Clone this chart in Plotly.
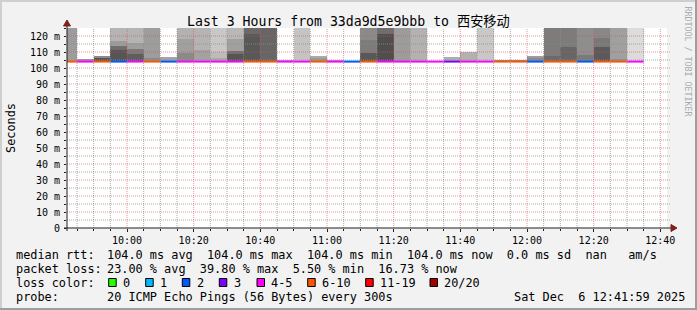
import plotly.graph_objects as go
from datetime import datetime, timedelta

# ---------------- data ----------------
DAY = "2025-12-06"
bin_start = ["09:40", "09:45", "09:50", "09:55", "10:00", "10:05", "10:10", "10:15", "10:20", "10:25",
             "10:30", "10:35", "10:40", "10:45", "10:50", "10:55", "11:00", "11:05", "11:10", "11:15",
             "11:20", "11:25", "11:30", "11:35", "11:40", "11:45", "11:50", "11:55", "12:00", "12:05",
             "12:10", "12:15", "12:20", "12:25", "12:30"]

median_rtt_ms = [104.0, 104.0, 104.0, 104.0, 104.0, 104.0, 104.0, 104.0, 104.0, 104.0,
                 104.0, 104.0, 104.0, 104.0, 104.0, 104.0, 104.0, 104.0, 104.0, 104.0,
                 104.0, 104.0, 104.0, 104.0, 104.0, 104.0, 104.0, 104.0, 104.0, 104.0,
                 104.0, 104.0, 104.0, 104.0, 104.0]

lost_pings = [7, 5, 7, 2, 5, 7, 2, 4, 5, 4,
              5, 8, 8, 5, 4, 6, 5, 2, 7, 5,
              4, 5, 4, 3, 4, 5, 6, 6, 2, 7,
              8, 2, 7, 6, 4]

# smoke bands (upper edge in ms, 140 = beyond top of chart) and their grey density
smoke_top_1 = [140, 105.4, 107.2, 140, 140, 140, 107, 140, 140, 140,
               140, 140, 140, 104.8, 140, 107.5, 104.8, None, 140, 140,
               140, 140, None, 107, 110.3, 140, 105, 105.3, 107.5, 140,
               140, 140, 140, 140, 140]
smoke_gray_1 = [156, 153, 138, 180, 180, 157, 164, 178, 180, 200,
                184, 106, 102, 180, 196, 170, 176, None, 138, 110,
                156, 178, None, 174, 178, 200, 138, 138, 156, 124,
                124, 142, 136, 160, 220]
smoke_top_2 = [None, None, 106.3, 117, 115.5, 106, None, 118, 111.5, 110,
               118, 121, None, None, None, 106, None, None, 117.5, 121,
               None, None, None, None, None, None, None, None, 106, 107.5,
               113.3, 108, 119, 105.8, None]
smoke_gray_2 = [None, None, 85, 156, 158, 138, None, 160, 162, 188,
                160, 88, None, None, None, 153, None, None, 124, 78,
                None, None, None, None, None, None, None, None, 136, 106,
                102, 122, 120, 144, None]
smoke_top_3 = [None, None, None, 114, 112, None, None, 109.5, None, 106.5,
               110.5, None, None, None, None, None, None, None, 109.5, None,
               None, None, None, None, None, None, None, None, None, None,
               None, None, 113.3, None, None]
smoke_gray_3 = [None, None, None, 110, 122, None, None, 138, None, 170,
                112, None, None, None, None, None, None, None, 88, None,
                None, None, None, None, None, None, None, None, None, None,
                None, None, 90, None, None]
smoke_top_4 = [None, None, None, 111, 109, None, None, None, None, None,
               109, None, None, None, None, None, None, None, None, None,
               None, None, None, None, None, None, None, None, None, None,
               None, None, None, None, None]
smoke_gray_4 = [None, None, None, 85, 94, None, None, None, None, None,
                85, None, None, None, None, None, None, None, None, None,
                None, None, None, None, None, None, None, None, None, None,
                None, None, None, None, None]

loss_labels = ["0", "1", "2", "3", "4-5", "6-10", "11-19", "20/20"]
loss_colors = ["#26ff00", "#00b8ff", "#0059ff", "#7e00ff", "#ff00ff", "#ff5500", "#ff0000", "#a10000"]

y_tick_vals = [0, 10, 20, 30, 40, 50, 60, 70, 80, 90, 100, 110, 120]
y_tick_text = ["0", "10 m", "20 m", "30 m", "40 m", "50 m", "60 m", "70 m", "80 m", "90 m",
               "100 m", "110 m", "120 m"]

title_text = "Last 3 Hours from 33da9d5e9bbb to 西安移动"
stat_lines = [
    ("median rtt:", "104.0 ms avg  104.0 ms max  104.0 ms min  104.0 ms now  0.0 ms sd  nan   am/s"),
    ("packet loss:", "23.00 % avg  39.80 % max  5.50 % min  16.73 % now"),
    ("loss color:", ""),
    ("probe:", "20 ICMP Echo Pings (56 Bytes) every 300s"),
]
stamp_text = "Sat Dec  6 12:41:59 2025"

# ---------------- layout helpers ----------------
W, H = 697, 310
L, R, T, B = 67, 30, 28, 82
PW, PH = W - L - R, H - T - B


def px2x(px):
    return (px - L) / PW


def py2y(py):
    return (H - B - py) / PH


def tm(s):
    return datetime.strptime(f"{DAY} {s}", "%Y-%m-%d %H:%M")


STEP = timedelta(minutes=5)
starts = [tm(s) for s in bin_start]
centers = [s + STEP / 2 for s in starts]

MONO = "DejaVu Sans Mono, Noto Sans CJK SC, monospace"
AXIS_COL = "rgb(31,31,31)"
GRID_COL = "rgba(143,143,143,0.75)"
MGRID_COL = "rgba(222,79,79,0.6)"

fig = go.Figure()

# smoke
for tops, grays in [(smoke_top_1, smoke_gray_1), (smoke_top_2, smoke_gray_2),
                    (smoke_top_3, smoke_gray_3), (smoke_top_4, smoke_gray_4)]:
    yv = [None if tp is None else tp - m for tp, m in zip(tops, median_rtt_ms)]
    cols = [f"rgb({g},{g},{g})" if g is not None else "rgba(0,0,0,0)" for g in grays]
    fig.add_trace(go.Bar(x=centers, y=yv, base=median_rtt_ms, width=300000,
                         marker=dict(color=cols, line=dict(width=0)), opacity=1,
                         hoverinfo="skip", showlegend=False))


def loss_level(n):
    if n <= 3:
        return n
    if n <= 5:
        return 4
    if n <= 10:
        return 5
    if n <= 19:
        return 6
    return 7


# median line coloured by loss
for lvl in range(len(loss_colors)):
    xs, ys = [], []
    for s, m, n in zip(starts, median_rtt_ms, lost_pings):
        if loss_level(n) == lvl:
            xs += [s, s + STEP, None]
            ys += [m, m, None]
    if xs:
        fig.add_trace(go.Scatter(x=xs, y=ys, mode="lines",
                                 line=dict(color=loss_colors[lvl], width=2),
                                 hoverinfo="skip", showlegend=False))

shapes = []
# grid (drawn above the data like rrdtool)
g = tm("09:45")
while g <= tm("12:40"):
    major = g.minute % 20 == 0
    shapes.append(dict(type="line", xref="x", yref="paper", x0=g, x1=g, y0=0, y1=1,
                       line=dict(color=MGRID_COL if major else GRID_COL, width=1, dash="1px,1px"),
                       layer="above"))
    g += STEP
for v in range(5, 125, 5):
    major = v % 10 == 0
    shapes.append(dict(type="line", xref="paper", yref="y", x0=0, x1=px2x(670), y0=v, y1=v,
                       line=dict(color=MGRID_COL if major else GRID_COL, width=1, dash="1px,1px"),
                       layer="above"))

# axes with arrows
shapes.append(dict(type="line", xref="paper", yref="paper", x0=px2x(64), x1=px2x(673),
                   y0=0, y1=0, line=dict(color=AXIS_COL, width=1), layer="above"))
shapes.append(dict(type="line", xref="paper", yref="paper", x0=0, x1=0,
                   y0=py2y(231), y1=py2y(24), line=dict(color=AXIS_COL, width=1), layer="above"))
ARROW = "rgb(128,31,31)"
shapes.append(dict(type="path", xref="paper", yref="paper",
                   path=f"M {px2x(677)},{py2y(228)} L {px2x(671)},{py2y(224.5)} L {px2x(671)},{py2y(231.5)} Z",
                   fillcolor=ARROW, line=dict(color=ARROW, width=1), layer="above"))
shapes.append(dict(type="path", xref="paper", yref="paper",
                   path=f"M {px2x(67)},{py2y(20)} L {px2x(63.5)},{py2y(26)} L {px2x(70.5)},{py2y(26)} Z",
                   fillcolor=ARROW, line=dict(color=ARROW, width=1), layer="above"))

# image border (3D shade)
def rect(x0, y0, x1, y1, col):
    return dict(type="rect", xref="paper", yref="paper", x0=px2x(x0), x1=px2x(x1),
                y0=py2y(y0), y1=py2y(y1), fillcolor=col, line=dict(width=0), layer="above")


shapes += [rect(0, 0, W, 2, "#cfcfcf"), rect(0, 0, 2, H, "#cfcfcf"),
           rect(0, H - 2, W, H, "#9e9e9e"), rect(W - 2, 0, W, H, "#9e9e9e")]

annotations = []


def txt(x, y, s, size, anchor="left", color="#000000", angle=0, family=MONO):
    annotations.append(dict(xref="paper", yref="paper", x=px2x(x), y=py2y(y),
                            text=s.replace(" ", "\u00a0"), showarrow=False,
                            xanchor=anchor, yanchor="middle", textangle=angle,
                            font=dict(family=family, size=size, color=color),
                            borderpad=0, borderwidth=0))


txt(348.5, 21, title_text, 13.2, anchor="center")
txt(11, 128, "Seconds", 11.86, anchor="center", angle=-90)
txt(687.5, 61, "RRDTOOL / TOBI OETIKER", 8.3, anchor="center", color="#ababab", angle=90)

CH = 7.14
row_y = [254.5, 268.5, 282.5, 296.5]
for (label, value), yy in zip(stat_lines, row_y):
    txt(15.5, yy, label, 11.86)
    if value:
        txt(13.7 + 13 * CH, yy, value, 11.86)
txt(13.7 + 70 * CH, row_y[3], stamp_text, 11.86)

# loss colour legend
box_x = [108.7, 145.7, 182.3, 219.3, 257.0, 307.7, 365.7, 430.0]
for bx, lab, col in zip(box_x, loss_labels, loss_colors):
    shapes.append(dict(type="rect", xref="paper", yref="paper",
                       x0=px2x(bx), x1=px2x(bx + 7.5), y0=py2y(286.5), y1=py2y(278.5),
                       fillcolor=col, line=dict(color="#000000", width=1), layer="above"))
    txt(bx + 14.3, row_y[2], lab, 11.86)

fig.update_layout(
    width=W, height=H,
    margin=dict(l=L, r=R, t=T, b=B, pad=0, autoexpand=False),
    paper_bgcolor="#f2f2f2", plot_bgcolor="#ffffff",
    barmode="overlay", bargap=0, showlegend=False,
    shapes=shapes, annotations=annotations,
    xaxis=dict(type="date", range=[tm("09:42"), tm("12:42")], showgrid=False, zeroline=False,
               showline=False, ticks="outside", ticklen=3, tickcolor=AXIS_COL, tickwidth=1,
               tickformat="%H:%M", dtick=1200000, tick0=tm("10:00"),
               tickfont=dict(family=MONO, size=10, color="#000000"),
               minor=dict(ticks="outside", ticklen=2, dtick=300000, tick0=tm("09:45"),
                          tickcolor=AXIS_COL, showgrid=False),
               automargin=False, fixedrange=True),
    yaxis=dict(range=[0, 125], showgrid=False, zeroline=False, showline=False,
               tickvals=y_tick_vals, ticktext=y_tick_text, ticks="outside", ticklen=2,
               tickcolor=AXIS_COL, tickfont=dict(family=MONO, size=10, color="#000000"),
               minor=dict(ticks="outside", ticklen=2, dtick=5, tick0=0, tickcolor=AXIS_COL,
                          showgrid=False),
               ticklabelstandoff=2, automargin=False, fixedrange=True),
)

fig.write_html("out.html", config={"displayModeBar": False})
